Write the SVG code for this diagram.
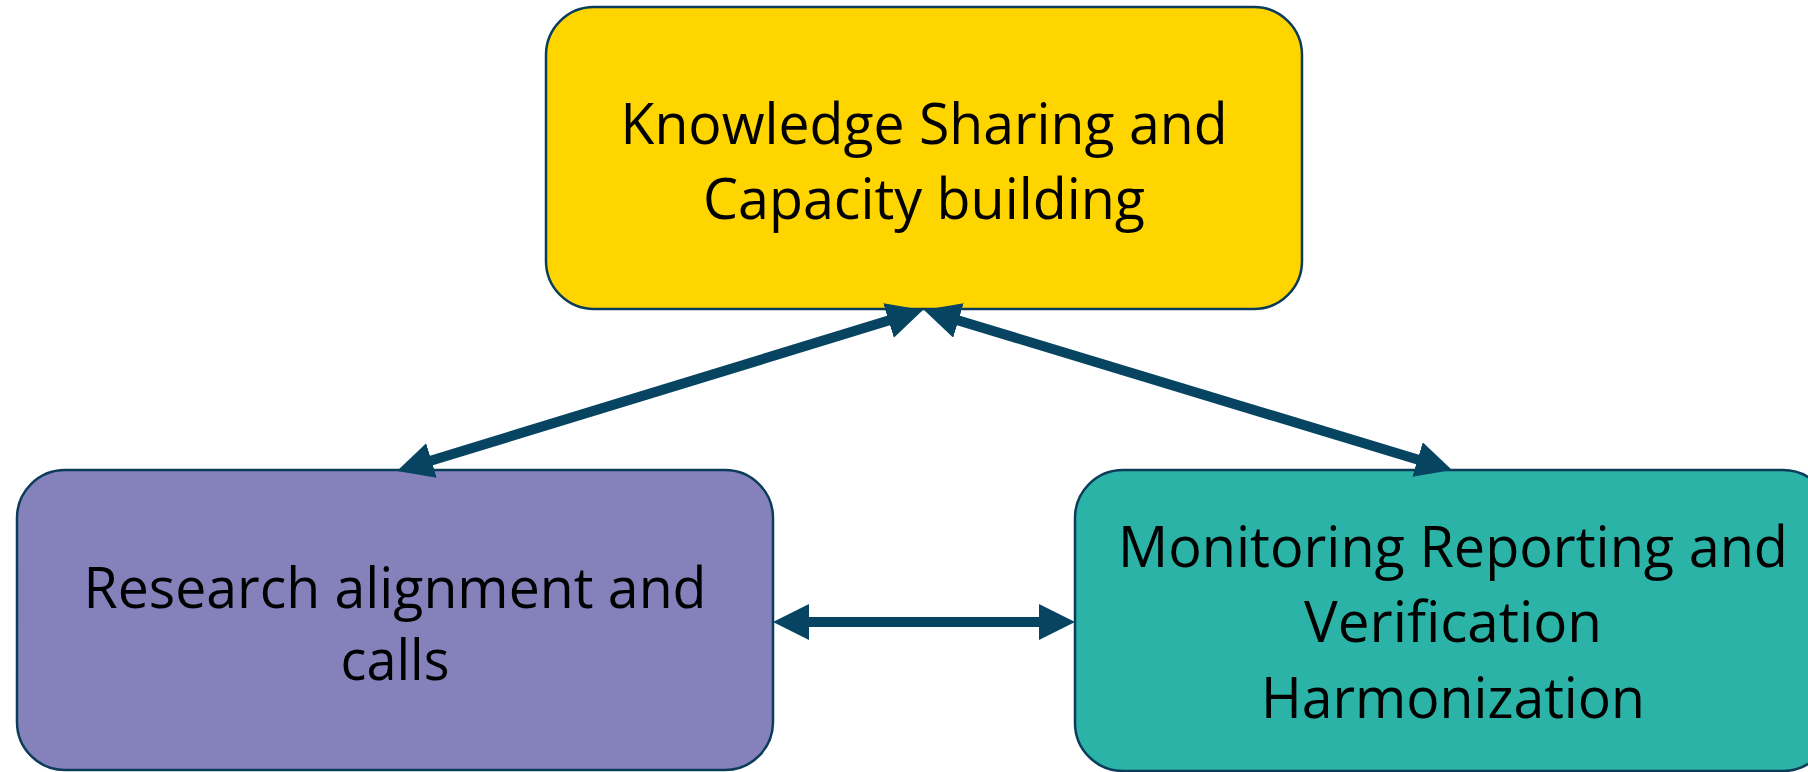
<svg xmlns="http://www.w3.org/2000/svg" width="1808" height="772" viewBox="0 0 1808 772">
  <style>
    .box { stroke: #0B3C5A; stroke-width: 2.5; }
    .lbl { font-family: "Open Sans", "Noto Sans", "Liberation Sans", sans-serif; font-size: 57px; fill: #000; text-anchor: middle; }
    .conn { stroke: #064462; stroke-width: 10; fill: none; }
  </style>
  <defs>
    <marker id="ah" viewBox="0 0 36 36" refX="6" refY="18" markerWidth="36" markerHeight="36" markerUnits="userSpaceOnUse" orient="auto-start-reverse">
      <path d="M0,0 L36,18 L0,36 Z" fill="#064462"/>
    </marker>
  </defs>
  <rect width="1808" height="772" fill="#ffffff"/>

  <g id="node-knowledge">
    <rect class="box" x="546" y="7" width="756" height="302" rx="48" ry="48" fill="#FFD500"/>
    <text class="lbl" x="924" y="144" textLength="607" lengthAdjust="spacingAndGlyphs">Knowledge Sharing and</text>
    <text class="lbl" x="924" y="219" textLength="442" lengthAdjust="spacingAndGlyphs">Capacity building</text>
  </g>

  <g id="node-research">
    <rect class="box" x="17" y="470" width="756" height="300" rx="48" ry="48" fill="#8581BA"/>
    <text class="lbl" x="395" y="608" textLength="623" lengthAdjust="spacingAndGlyphs">Research alignment and</text>
    <text class="lbl" x="395" y="680" textLength="109" lengthAdjust="spacingAndGlyphs">calls</text>
  </g>

  <g id="node-monitoring">
    <rect class="box" x="1075" y="470" width="756" height="301" rx="48" ry="48" fill="#2BB3A7"/>
    <text class="lbl" x="1453" y="567" textLength="670" lengthAdjust="spacingAndGlyphs">Monitoring Reporting and</text>
    <text class="lbl" x="1453" y="642" textLength="298" lengthAdjust="spacingAndGlyphs">Verification</text>
    <text class="lbl" x="1453" y="718" textLength="384" lengthAdjust="spacingAndGlyphs">Harmonization</text>
  </g>

  <g id="connectors">
    <line class="conn" x1="894.3" y1="318.8" x2="425.7" y2="462.2" marker-start="url(#ah)" marker-end="url(#ah)"/>
    <line class="conn" x1="952.7" y1="318.7" x2="1423.3" y2="461.3" marker-start="url(#ah)" marker-end="url(#ah)"/>
    <line class="conn" x1="803" y1="622" x2="1045" y2="622" marker-start="url(#ah)" marker-end="url(#ah)"/>
  </g>
</svg>
